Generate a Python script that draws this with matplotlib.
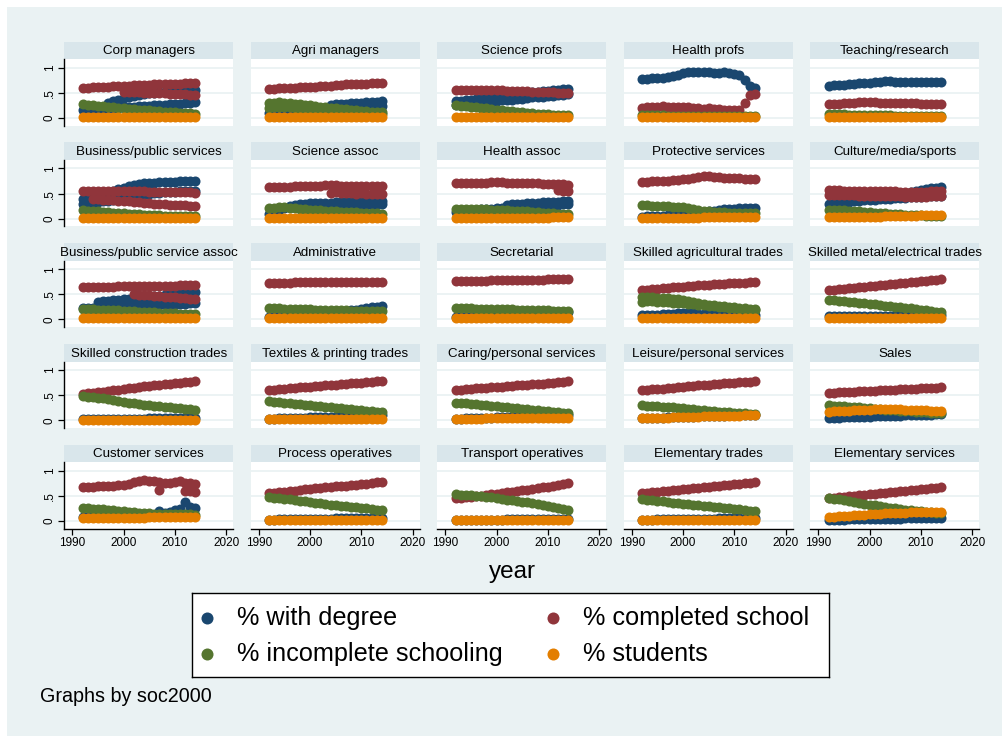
import numpy as np
import matplotlib.pyplot as plt

plt.rcParams['font.family'] = ['Liberation Sans', 'DejaVu Sans']

years = list(range(1992, 2015))

occupations = [
    "Corp managers", "Agri managers", "Science profs", "Health profs", "Teaching/research",
    "Business/public services", "Science assoc", "Health assoc", "Protective services", "Culture/media/sports",
    "Business/public service assoc", "Administrative", "Secretarial", "Skilled agricultural trades", "Skilled metal/electrical trades",
    "Skilled construction trades", "Textiles & printing trades", "Caring/personal services", "Leisure/personal services", "Sales",
    "Customer services", "Process operatives", "Transport operatives", "Elementary trades", "Elementary services",
]

N = None

# shares in percent, one list per year 1992-2014; several bands per group where sub-groups split
degree = {
    "Corp managers": [[15,16,16,17,18,19,19,20,21,22,22,23,24,24,25,26,26,27,28,28,29,30,31],
                      [N,N,N,N,N,30,33,36,39,42,44,46,47,49,50,51,52,52,53,54,54,55,55]],
    "Agri managers": [[10,10,11,11,12,12,13,14,15,16,17,18,19,19,20,20,21,21,22,22,22,23,23],
                      [N,N,N,N,N,N,N,N,N,N,N,N,26,27,28,28,29,30,30,31,31,32,33]],
    "Science profs": [[33,34,35,36,38,38,40,41,43,44,45,47,47,48,50,51,52,54,54,55,56,58,58],
                      [25,26,27,29,29,30,32,32,33,35,35,36,38,38,39,41,41,42,44,44,45,46,47]],
    "Health profs": [[77,78,79,80,80,82,84,86,90,92,92,91,92,91,90,90,91,89,88,86,75,63,60]],
    "Teaching/research": [[64,65,65,66,67,68,69,70,70,71,72,73,73,72,72,72,71,71,72,72,72,72,72]],
    "Business/public services": [[40,42,44,47,50,53,56,59,62,65,68,70,71,72,72,73,73,74,74,75,75,76,76],
                                 [30,31,32,33,35,36,38,40,42,44,46,48,49,50,51,52,53,54,54,55,55,56,56]],
    "Science assoc": [[10,14,18,22,26,28,30,30,31,31,32,32,32,33,33,34,34,35,35,35,36,36,36],
                      [N,N,N,N,N,N,N,N,N,N,N,N,22,23,24,25,26,27,27,28,28,29,29]],
    "Health assoc": [[14,15,16,17,18,19,20,20,21,22,23,23,24,25,25,26,26,27,27,28,28,29,30],
                     [N,N,N,N,N,N,N,N,N,N,28,29,30,30,31,32,32,33,33,34,34,35,35]],
    "Protective services": [[4,5,5,6,6,7,8,9,10,11,12,13,14,15,16,18,19,20,20,21,21,22,22]],
    "Culture/media/sports": [[30,31,32,33,34,35,36,37,38,38,39,40,40,41,42,42,43,43,44,45,45,46,46],
                             [N,N,N,N,N,N,N,N,N,N,N,N,N,N,N,52,54,56,58,60,61,62,63]],
    "Business/public service assoc": [[22,22,23,23,24,24,25,25,26,26,27,27,28,28,29,29,30,30,31,31,31,32,32],
                                      [N,N,N,34,36,37,38,39,40,41,42,43,44,45,46,47,48,49,50,51,52,53,55]],
    "Administrative": [[5,5,6,6,7,7,8,9,10,11,11,12,13,14,15,17,18,19,20,22,24,25,26]],
    "Secretarial": [[4,4,5,5,5,6,6,7,7,8,8,9,9,10,10,11,11,12,12,13,13,14,14]],
    "Skilled agricultural trades": [[8,8,9,9,10,10,11,12,12,12,12,11,11,11,10,10,10,9,9,9,9,9,8]],
    "Skilled metal/electrical trades": [[6,6,6,6,7,7,7,7,7,7,7,7,7,8,8,8,8,8,8,8,8,8,8]],
    "Skilled construction trades": [[2,2,2,2,2,3,3,3,3,3,3,3,3,4,4,4,4,4,4,4,5,5,5]],
    "Textiles & printing trades": [[3,3,4,4,4,5,5,5,6,6,6,7,7,7,8,8,8,9,9,9,10,10,10]],
    "Caring/personal services": [[3,3,4,4,4,5,5,5,6,6,6,7,7,7,8,8,8,9,9,9,10,10,10]],
    "Leisure/personal services": [[4,4,5,5,5,6,6,6,7,7,7,8,8,8,9,9,9,10,10,10,11,11,11]],
    "Sales": [[5,5,5,6,6,6,7,7,7,8,8,8,9,9,9,10,10,10,11,11,11,12,12]],
    "Customer services": [[8,8,8,8,9,9,9,9,10,10,10,10,11,11,12,20,16,18,22,24,38,28,26]],
    "Process operatives": [[2,2,3,3,3,3,3,4,4,4,4,4,4,5,5,5,5,5,5,5,5,5,5]],
    "Transport operatives": [[1,1,1,2,2,2,2,2,2,2,3,3,3,3,3,3,3,4,4,4,4,4,4]],
    "Elementary trades": [[2,2,2,3,3,3,3,3,3,4,4,4,4,4,4,5,5,5,5,5,5,5,5]],
    "Elementary services": [[2,2,2,2,3,3,3,3,3,3,4,4,4,4,4,5,5,5,5,5,5,5,5]],
}

completed = {
    "Corp managers": [[60,60,61,61,62,62,63,63,64,64,65,65,66,66,67,67,67,68,68,68,69,69,69],
                      [N,N,N,N,N,N,N,N,52,52,51,51,50,50,50,49,49,48,48,47,47,46,46]],
    "Agri managers": [[58,58,59,59,60,60,61,61,62,62,63,63,64,66,66,67,67,67,68,68,69,69,70]],
    "Science profs": [[55,55,56,55,55,56,55,56,55,55,54,54,54,53,53,52,52,52,51,51,50,50,50]],
    "Health profs": [[20,21,21,22,23,22,22,21,22,21,20,19,18,19,18,17,16,16,15,16,30,45,48]],
    "Teaching/research": [[28,28,28,29,29,30,31,31,32,31,30,30,29,29,29,29,29,29,28,28,28,28,28]],
    "Business/public services": [[55,55,56,56,56,55,55,55,56,56,55,55,55,54,54,54,54,53,53,53,53,53,52],
                                 [N,N,40,39,38,38,37,36,35,35,34,33,32,31,30,30,29,28,28,27,27,26,26]],
    "Science assoc": [[63,63,64,64,64,65,65,65,66,66,66,67,67,67,66,66,66,66,66,65,65,65,65],
                      [N,N,N,N,N,N,N,N,N,N,N,N,52,53,52,51,52,50,51,50,50,49,49]],
    "Health assoc": [[71,71,71,72,72,72,72,73,73,73,72,72,72,72,71,71,71,70,70,70,69,69,68],
                     [N,N,N,N,N,N,N,N,N,N,N,N,N,N,N,N,N,N,N,N,58,56,55]],
    "Protective services": [[73,74,75,75,76,76,77,78,79,80,82,84,86,85,84,83,82,82,81,81,80,80,80]],
    "Culture/media/sports": [[57,57,57,56,56,56,56,55,55,56,56,55,55,55,54,54,54,54,54,54,55,55,55],
                             [48,48,48,47,47,47,46,46,46,46,45,45,45,45,45,44,44,44,44,44,45,45,45]],
    "Business/public service assoc": [[64,64,64,65,65,65,65,66,66,66,66,66,67,67,67,67,67,67,67,68,68,68,68],
                                      [N,N,N,N,N,N,N,N,N,N,50,49,49,48,47,46,45,44,44,43,42,41,40]],
    "Administrative": [[73,73,73,73,73,74,74,74,74,74,75,75,75,75,75,75,75,75,74,74,74,75,75]],
    "Secretarial": [[76,76,76,77,77,77,77,78,78,78,78,78,78,79,79,79,79,79,80,80,80,80,80]],
    "Skilled agricultural trades": [[58,59,60,61,62,63,64,64,65,66,67,68,68,69,70,70,71,72,72,73,73,74,75]],
    "Skilled metal/electrical trades": [[58,59,60,61,62,63,64,65,66,67,68,69,70,71,72,73,74,75,76,77,78,79,80]],
    "Skilled construction trades": [[53,54,55,56,57,58,60,61,62,64,65,66,68,69,70,71,72,73,74,75,76,77,78]],
    "Textiles & printing trades": [[60,61,62,63,64,65,66,66,67,68,69,70,70,71,72,73,74,75,75,76,77,78,79]],
    "Caring/personal services": [[60,61,62,63,64,64,65,66,67,67,68,69,70,70,71,72,73,73,74,75,76,77,78]],
    "Leisure/personal services": [[60,61,62,62,63,64,65,66,67,68,69,70,70,71,72,73,74,75,75,76,77,77,78]],
    "Sales": [[55,55,56,56,57,57,58,58,59,59,60,60,61,61,62,62,63,63,64,64,65,65,66]],
    "Customer services": [[68,68,68,69,69,70,70,71,71,73,78,80,82,80,80,78,76,75,78,80,76,75,74],
                          [N,N,N,N,N,N,N,N,N,N,N,N,N,N,N,62,N,N,N,N,60,60,58]],
    "Process operatives": [[55,56,57,58,59,60,62,63,64,65,66,67,68,69,70,70,71,72,73,74,76,77,78]],
    "Transport operatives": [[45,46,47,48,49,50,52,53,54,55,57,58,59,61,62,64,65,67,68,70,72,74,75]],
    "Elementary trades": [[55,56,57,58,59,60,61,62,63,64,65,66,67,68,69,70,71,72,73,74,75,76,77]],
    "Elementary services": [[45,46,47,48,49,50,51,52,53,54,55,56,57,58,59,60,61,62,63,64,65,66,67]],
}

incomplete = {
    "Corp managers": [[27,26,25,24,23,22,21,20,19,18,17,16,15,15,14,13,12,12,11,10,10,9,8]],
    "Agri managers": [[30,30,31,30,29,28,27,26,25,23,22,21,20,19,18,17,16,15,14,13,12,12,11],
                      [20,21,22,21,21,20,19,18,17,16,15,14,14,13,12,11,11,10,9,9,8,8,8]],
    "Science profs": [[25,24,23,22,21,20,19,17,16,15,14,13,12,11,10,9,8,8,7,6,6,5,5]],
    "Health profs": [[5,5,5,5,5,4,4,4,4,4,4,4,4,3,3,3,3,3,3,3,3,3,3]],
    "Teaching/research": [[7,7,7,7,6,6,6,6,5,5,5,5,5,4,4,4,4,4,4,4,4,4,4]],
    "Business/public services": [[17,16,16,15,14,13,12,12,11,10,10,9,8,8,7,7,6,6,5,5,5,5,5]],
    "Science assoc": [[22,22,23,23,22,21,20,19,18,17,17,16,15,15,14,14,13,13,12,12,11,11,10]],
    "Health assoc": [[20,20,20,20,19,19,19,18,18,17,17,16,16,15,15,14,13,12,12,11,10,10,9]],
    "Protective services": [[27,27,26,26,25,25,24,24,23,22,20,18,16,15,14,13,13,12,12,12,11,11,11]],
    "Culture/media/sports": [[18,18,17,17,16,16,15,14,13,12,12,11,10,10,9,8,8,7,7,6,6,6,5]],
    "Business/public service assoc": [[20,20,20,19,19,19,18,18,17,17,16,15,15,14,14,13,13,12,12,11,11,10,10]],
    "Administrative": [[22,22,22,21,21,21,20,20,20,19,19,19,18,18,18,18,17,17,17,17,17,17,17]],
    "Secretarial": [[22,22,22,22,21,21,21,21,20,20,20,20,19,19,19,19,18,18,18,17,17,17,17]],
    "Skilled agricultural trades": [[45,44,44,43,42,42,41,40,38,36,34,32,30,29,28,27,26,25,24,23,22,21,20],
                                    [35,36,36,35,35,34,33,33,32,31,30,29,28,27,26,25,24,23,22,21,20,19,18]],
    "Skilled metal/electrical trades": [[39,38,37,36,35,34,33,32,31,30,28,27,26,25,24,23,22,21,19,18,17,15,14]],
    "Skilled construction trades": [[48,47,46,45,44,42,40,38,36,35,34,33,31,30,29,28,27,26,25,24,23,22,21]],
    "Textiles & printing trades": [[38,37,36,35,34,33,32,31,30,29,28,27,26,25,24,23,22,21,20,19,18,17,16]],
    "Caring/personal services": [[35,34,34,33,32,31,30,29,28,27,26,25,24,23,22,21,20,19,18,17,16,15,14]],
    "Leisure/personal services": [[30,29,29,28,27,27,26,25,24,23,22,21,20,19,18,17,17,16,15,14,14,13,13]],
    "Sales": [[30,29,29,28,27,27,26,25,24,23,22,21,20,20,19,18,18,17,16,16,15,15,14]],
    "Customer services": [[25,25,24,24,23,22,21,20,19,18,17,16,15,15,14,14,14,14,14,13,13,13,12]],
    "Process operatives": [[47,46,45,44,43,42,40,39,37,36,35,34,32,31,30,29,28,27,26,25,23,22,21]],
    "Transport operatives": [[53,52,52,51,50,49,48,47,45,44,42,41,40,38,37,35,34,32,30,28,26,24,22]],
    "Elementary trades": [[43,42,41,40,39,38,36,35,34,33,32,31,30,29,28,27,26,25,24,23,22,20,19]],
    "Elementary services": [[45,44,43,41,40,38,36,34,32,31,30,28,26,25,23,22,21,20,19,18,17,16,15]],
}

students = {
    "Corp managers": [[2,2,2,2,2,2,2,2,2,2,2,2,2,2,2,2,2,2,2,2,2,2,2]],
    "Agri managers": [[2,2,2,2,2,2,2,2,2,2,2,2,2,2,2,2,2,2,2,2,2,2,2]],
    "Science profs": [[2,2,2,2,2,2,2,2,2,2,2,2,2,2,2,2,2,2,2,2,2,2,2]],
    "Health profs": [[1,1,1,1,1,1,1,1,1,1,1,1,1,1,1,1,1,1,1,1,1,1,1]],
    "Teaching/research": [[2,2,2,2,2,2,2,2,2,2,2,2,2,2,2,2,2,2,2,2,2,2,2]],
    "Business/public services": [[2,2,2,2,2,2,2,2,2,2,2,2,2,2,2,2,2,2,2,2,2,2,2]],
    "Science assoc": [[2,2,2,2,2,2,2,2,2,2,2,2,2,2,2,2,2,2,2,2,2,2,2]],
    "Health assoc": [[2,2,2,2,2,2,2,2,2,2,2,2,2,2,2,2,2,2,2,3,3,4,3]],
    "Protective services": [[2,2,2,2,2,2,2,2,2,2,2,2,3,3,3,3,3,3,3,3,3,3,3]],
    "Culture/media/sports": [[3,3,3,3,3,3,4,4,4,4,4,5,5,5,5,6,6,6,7,7,7,8,8]],
    "Business/public service assoc": [[2,2,2,2,2,2,2,2,2,2,2,2,2,2,2,2,2,2,2,2,2,2,2]],
    "Administrative": [[2,2,2,2,2,2,2,2,2,2,2,2,2,2,2,2,2,2,2,2,2,2,2]],
    "Secretarial": [[2,2,2,2,2,2,2,2,2,2,2,2,2,2,2,2,2,2,2,2,2,2,2]],
    "Skilled agricultural trades": [[3,3,3,3,3,3,3,3,3,3,3,3,3,3,3,3,3,3,3,3,3,3,3]],
    "Skilled metal/electrical trades": [[2,2,2,2,2,2,2,2,2,2,2,2,2,2,2,2,2,2,2,2,2,2,2]],
    "Skilled construction trades": [[1,1,1,1,1,1,1,1,1,1,1,1,1,1,1,1,1,1,1,1,1,1,1]],
    "Textiles & printing trades": [[2,2,2,2,2,2,2,2,2,2,2,2,2,2,2,2,2,2,2,2,2,2,2]],
    "Caring/personal services": [[3,3,3,3,3,3,4,4,4,4,4,4,4,4,4,5,5,5,5,5,5,5,5]],
    "Leisure/personal services": [[4,4,4,5,5,5,6,6,6,7,7,7,8,8,8,8,9,9,9,9,10,10,10]],
    "Sales": [[17,18,18,19,19,20,20,21,21,22,22,22,22,22,22,21,21,21,20,20,19,19,18]],
    "Customer services": [[5,5,5,5,5,5,5,6,6,6,6,6,6,7,7,7,8,8,8,8,8,8,8]],
    "Process operatives": [[1,1,1,1,1,1,1,1,1,1,1,1,1,1,1,1,1,1,1,1,1,1,1]],
    "Transport operatives": [[1,1,1,1,1,1,1,1,1,1,1,1,1,1,1,1,1,1,1,1,1,1,1]],
    "Elementary trades": [[2,2,2,2,2,2,2,2,2,2,2,2,2,2,2,2,2,2,2,2,2,2,2]],
    "Elementary services": [[7,8,9,10,10,11,12,12,13,14,14,15,15,16,16,16,17,17,17,17,18,18,18]],
}

series = [
    ("% with degree", degree, "#1A476F"),
    ("% completed school", completed, "#90353B"),
    ("% incomplete schooling", incomplete, "#55752F"),
    ("% students", students, "#E37E00"),
]

BG = "#EAF2F3"
STRIP = "#D9E6EB"
W, H = 1002, 736


def box(x, y, w, h):
    # pixel box (top-left origin) -> figure fraction
    return [x / W, 1 - (y + h) / H, w / W, h / H]


fig = plt.figure(figsize=(W / 100, H / 100), dpi=100, facecolor="white")
bg = fig.add_axes(box(7, 7, W - 7, H - 7))
bg.set_facecolor(BG)
bg.set_xticks([])
bg.set_yticks([])
for s in bg.spines.values():
    s.set_visible(False)

x0, col_step, pw = 64.3, 186.5, 169
y0, row_step, sh, ph = 41.7, 100.75, 17.6, 66.3

for i, occ in enumerate(occupations):
    r, c = divmod(i, 5)
    px = x0 + c * col_step
    py = y0 + r * row_step

    st = fig.add_axes(box(px, py, pw, sh))
    st.set_facecolor(STRIP)
    st.set_xticks([])
    st.set_yticks([])
    for s in st.spines.values():
        s.set_visible(False)
    st.text(0.5, 0.45, occ, ha="center", va="center", fontsize=9.6,
            transform=st.transAxes, clip_on=False)

    ax = fig.add_axes(box(px, py + sh, pw, ph))
    ax.set_facecolor("white")
    ax.set_xlim(1988.44, 2021.4)
    ax.set_ylim(-0.152, 1.168)
    for g in (0, 0.5, 1):
        ax.axhline(g, color=BG, lw=1.3, zorder=0)

    for label, data, color in series:
        for band in data[occ]:
            vals = np.array(band, dtype=float) / 100
            ax.scatter(years, vals, s=52, color=color, linewidths=0, zorder=2)

    for s in ax.spines.values():
        s.set_visible(False)
    ax.set_xticks([1990, 2000, 2010, 2020])
    ax.set_yticks([0, 0.5, 1])
    ax.tick_params(length=4, width=0.9, labelsize=8.5, pad=2)
    if c == 0:
        ax.spines["left"].set_visible(True)
        ax.spines["left"].set_linewidth(1.0)
        ax.set_yticklabels(["0", ".5", "1"], rotation=90, va="center")
    else:
        ax.tick_params(axis="y", left=False, labelleft=False)
    if r == 4:
        ax.spines["bottom"].set_visible(True)
        ax.spines["bottom"].set_linewidth(1.0)
        ax.set_xticklabels(["1990", "2000", "2010", "2020"])
    else:
        ax.tick_params(axis="x", bottom=False, labelbottom=False)

fig.text(512 / W, 1 - 572 / H, "year", ha="center", va="center", fontsize=17.5)

# legend box
lg = fig.add_axes(box(192, 593, 637, 84))
lg.set_facecolor("white")
lg.set_xlim(0, 637)
lg.set_ylim(84, 0)
lg.set_xticks([])
lg.set_yticks([])
for s in lg.spines.values():
    s.set_linewidth(1.0)
    s.set_color("black")
positions = [(15, 25), (361, 25), (15, 61), (361, 61)]
for (label, data, color), (lx, ly) in zip(series, positions):
    lg.scatter([lx], [ly], s=75, color=color, linewidths=0)
    lg.text(lx + 30, ly, label, va="center", ha="left", fontsize=18.2)

fig.text(40 / W, 1 - 697 / H, "Graphs by soc2000", ha="left", va="center", fontsize=14.2)

fig.savefig("out.png", dpi=100, facecolor=fig.get_facecolor())
